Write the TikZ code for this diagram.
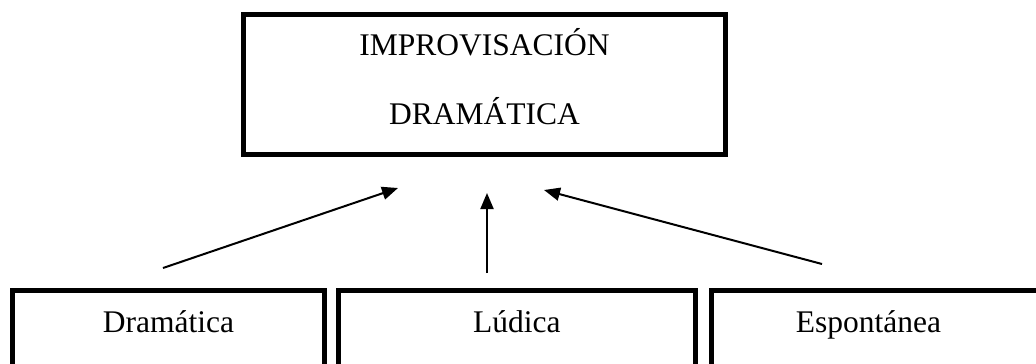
\documentclass[tikz,border=0pt]{standalone}
\usepackage{fontspec}
\setmainfont{Liberation Serif}
\usetikzlibrary{arrows.meta, positioning, calc}
\tikzstyle{bigbox} = [rectangle, draw=black, line width=5bp, inner sep=0pt]
\tikzstyle{txt} = [anchor=base, inner sep=0pt, font=\fontsize{31.5bp}{38bp}\selectfont]
\tikzstyle{arrow} = [line width=2bp, -{Triangle[length=16bp, width=13bp]}]

\begin{document}
\begin{tikzpicture}[x=1bp, y=-1bp]
    \useasboundingbox (0,0) rectangle (1036,363);
    \clip (0,0) rectangle (1036,363);

    % upper box
    \node (impro) [bigbox, minimum width=481bp, minimum height=140bp] at (484.5,84.5) {};
    \node (imptxt) [txt] at (484.5,55) {IMPROVISACIÓN};
    \node (dramtxt) [txt] at (484.5,124) {DRAMÁTICA};

    % lower boxes (cut by the page edge)
    \node (dram) [bigbox, minimum width=312bp, minimum height=139.5bp] at (168.5,360.25) {};
    \node (lud) [bigbox, minimum width=356.5bp, minimum height=139.5bp] at (516.75,360.25) {};
    \node (esp) [bigbox, minimum width=335bp, minimum height=139.5bp] at (878.5,360.25) {};
    \node (dramlbl) [txt] at (168.5,332) {Dramática};
    \node (ludlbl) [txt] at (516.75,332) {Lúdica};
    \node (esplbl) [txt] at (868.5,332) {Espontánea};

    % arrows
    \coordinate (fromdram) at (163,268);
    \coordinate (todram) at (398,188);
    \coordinate (fromlud) at (487,273);
    \coordinate (tolud) at (487,193);
    \coordinate (fromesp) at (822,264);
    \coordinate (toesp) at (544,190);
    \draw [arrow] (fromdram) -- (todram);
    \draw [arrow] (fromlud) -- (tolud);
    \draw [arrow] (fromesp) -- (toesp);
\end{tikzpicture}
\end{document}
